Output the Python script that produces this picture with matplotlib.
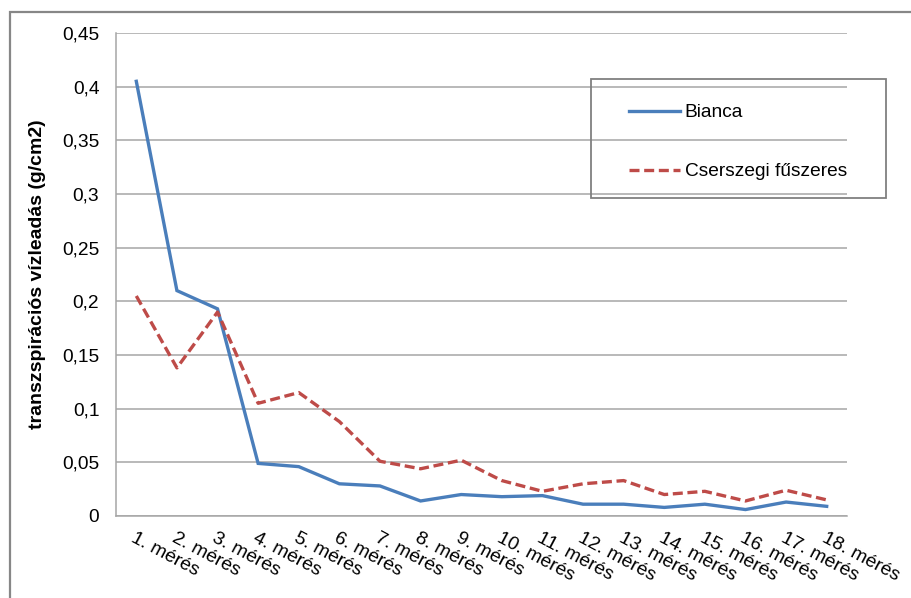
import matplotlib
matplotlib.use("Agg")
import matplotlib.pyplot as plt
from matplotlib.patches import Rectangle

plt.rcParams['font.family'] = ['Liberation Sans', 'DejaVu Sans']

# Measurements
meresek = [f"{i}. mérés" for i in range(1, 19)]
bianca = [0.405, 0.210, 0.193, 0.049, 0.046, 0.030, 0.028, 0.014, 0.020,
          0.018, 0.019, 0.011, 0.011, 0.008, 0.011, 0.006, 0.013, 0.009]
cserszegi = [0.205, 0.138, 0.190, 0.105, 0.115, 0.088, 0.051, 0.044, 0.052,
             0.033, 0.023, 0.030, 0.033, 0.020, 0.023, 0.014, 0.024, 0.015]
y_ticks = [0, 0.05, 0.1, 0.15, 0.2, 0.25, 0.3, 0.35, 0.4, 0.45]

W, H = 912, 598
FS = 13.8
fig = plt.figure(figsize=(W / 100, H / 100), dpi=100)
ax = fig.add_axes([116 / W, 1 - 516 / H, (847 - 116) / W, (516 - 33) / H])

x = range(len(meresek))
ax.plot(x, bianca, color='#4A7EBB', lw=2.4, label='Bianca',
        solid_joinstyle='miter')
ax.plot(x, cserszegi, color='#BE4B48', lw=2.4, dashes=(3.0, 1.4),
        label='Cserszegi fűszeres', dash_capstyle='butt')

ax.set_xlim(-0.5, len(meresek) - 0.5)
ax.set_ylim(0, 0.45)
ax.set_yticks(y_ticks)
ax.set_yticklabels([f"{v:g}".replace('.', ',') for v in y_ticks], fontsize=FS)
ax.set_xticks(list(x))
ax.set_xticklabels(meresek, fontsize=FS, rotation=-28,
                   ha='left', va='top', rotation_mode='anchor')
ax.tick_params(axis='both', length=0, colors='black')
ax.tick_params(axis='y', pad=12)
ax.tick_params(axis='x', pad=10)

ax.grid(axis='y', color='#A6A6A6', lw=1.1)
ax.set_axisbelow(True)
for s in ['top', 'right']:
    ax.spines[s].set_visible(False)
for s in ['left', 'bottom']:
    ax.spines[s].set_color('#A6A6A6')
    ax.spines[s].set_linewidth(1.1)

ax.set_ylabel('transzspirációs vízleadás (g/cm2)', fontsize=14,
              fontweight='bold')
ax.yaxis.set_label_coords((46 - 116) / (847 - 116), 0.5)

# Legend with a separate frame
leg = fig.legend(loc='upper left', bbox_to_anchor=(629 / W, 1 - 104 / H),
                 frameon=False, fontsize=FS, handlelength=2.65,
                 handletextpad=0.25, labelspacing=2.16, borderpad=0,
                 borderaxespad=0)
fig.patches.append(Rectangle((591 / W, 1 - 198 / H), (886 - 591) / W,
                             (198 - 79) / H, transform=fig.transFigure,
                             fill=False, edgecolor='#808080', lw=1.3))

# Outer chart border
fig.patches.append(Rectangle((10 / W, -0.05), 1.1, 1 - 12 / H + 0.05,
                             transform=fig.transFigure, fill=False,
                             edgecolor='#878787', lw=1.6))

fig.savefig('out.png', dpi=100)
